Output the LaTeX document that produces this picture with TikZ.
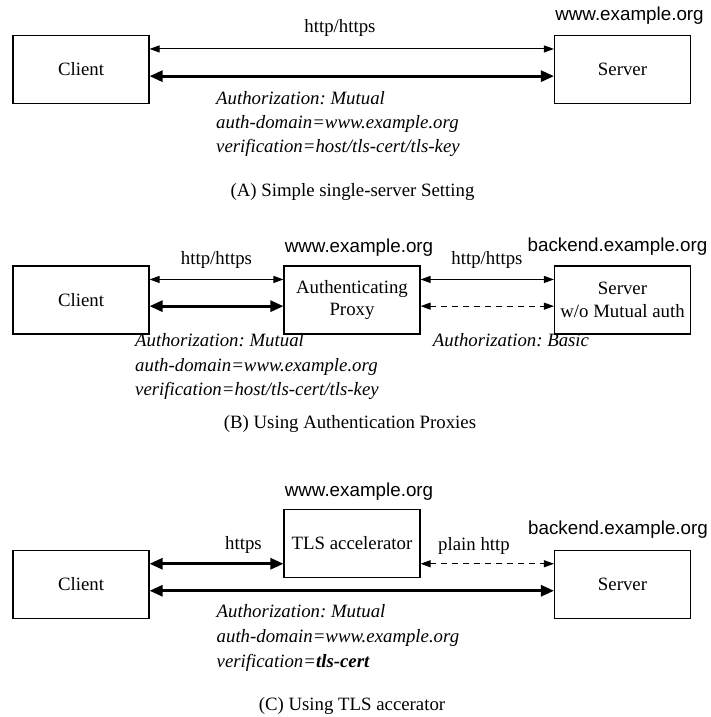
\documentclass[tikz,border=0pt]{standalone}
\usepackage{fontspec}
\setmainfont{Liberation Serif}
\newfontfamily\hostfont{Liberation Sans}
\usetikzlibrary{arrows.meta,calc}
\frenchspacing
\begin{document}
\begin{tikzpicture}[x=1pt,y=-1pt,
  box/.style={draw,line width=1.1pt,minimum width=136pt,minimum height=68pt,inner sep=0pt,align=center,font=\fontsize{18.8}{22.5}\selectfont},
  lbl/.style={inner sep=0pt,anchor=base,font=\fontsize{18.8}{22.5}\selectfont},
  host/.style={inner sep=0pt,anchor=base,font=\hostfont\fontsize{18.8}{22.5}\selectfont},
  auth/.style={inner sep=0pt,anchor=base west,font=\itshape\fontsize{18.8}{22.5}\selectfont},
  thinarr/.style={line width=1pt,{Triangle[length=10pt,width=7pt]}-{Triangle[length=10pt,width=7pt]}},
  thickarr/.style={line width=2.7pt,{Triangle[length=13pt,width=11pt]}-{Triangle[length=13pt,width=11pt]}},
  dasharr/.style={thinarr,dash pattern=on 6pt off 5pt},
]
\useasboundingbox (0,0) rectangle (711,717);

% ---------- (A) ----------
\node[box] (cA) at (81,69.5) {Client};
\node[box] (sA) at (622.5,69.5) {Server};
\node[host] (hA) at (629.5,21) {www.example.org};
\node[lbl] (pA) at (340,32.5) {http/https};
\coordinate (ya1) at ($(cA.north)+(0,14)$);
\coordinate (ya2) at ($(cA.north)+(0,41.2)$);
\draw[thinarr] (cA.east |- ya1) -- (sA.west |- ya1);
\draw[thickarr] (cA.east |- ya2) -- (sA.west |- ya2);
\node[auth] (a1A) at (216,104) {Authorization: Mutual};
\node[auth] (a2A) at (216,128.4) {auth-domain=www.example.org};
\node[auth] (a3A) at (216,152.8) {verification=host/tls-cert/tls-key};
\node[lbl] (capA) at (352.5,196.6) {(A) Simple single-server Setting};

% ---------- (B) ----------
\node[box] (cB) at (81,300) {Client};
\node[box] (pB) at (352,300) {Authenticating\\Proxy};
\node[box] (sB) at (622.5,300) {Server\\w/o Mutual auth};
\node[host] (hB1) at (359,252) {www.example.org};
\node[host] (hB2) at (617.5,251) {backend.example.org};
\node[lbl] (lB1) at (216.5,264) {http/https};
\node[lbl] (lB2) at (487,264) {http/https};
\coordinate (yb1) at ($(cB.north)+(0,14)$);
\coordinate (yb2) at ($(cB.north)+(0,40.7)$);
\draw[thinarr] (cB.east |- yb1) -- (pB.west |- yb1);
\draw[thickarr] (cB.east |- yb2) -- (pB.west |- yb2);
\draw[thinarr] (pB.east |- yb1) -- (sB.west |- yb1);
\draw[dasharr] (pB.east |- yb2) -- (sB.west |- yb2);
\node[auth] (a1B) at (135,346.7) {Authorization: Mutual};
\node[auth] (a2B) at (135,371.2) {auth-domain=www.example.org};
\node[auth] (a3B) at (135,395.7) {verification=host/tls-cert/tls-key};
\node[auth] (a4B) at (432.7,346.7) {Authorization: Basic};
\node[lbl] (capB) at (350,428.3) {(B) Using Authentication Proxies};

% ---------- (C) ----------
\node[box] (cC) at (81,584.3) {Client};
\node[box] (tC) at (352,543.5) {TLS accelerator};
\node[box] (sC) at (622.5,584.3) {Server};
\node[host] (hC1) at (359,496) {www.example.org};
\node[host] (hC2) at (618,534.5) {backend.example.org};
\node[lbl] (lC1) at (243.5,549.5) {https};
\node[lbl] (lC2) at (474,550) {plain http};
\coordinate (yc1) at ($(cC.north)+(0,14)$);
\coordinate (yc2) at ($(cC.north)+(0,41)$);
\draw[thickarr] (cC.east |- yc1) -- (tC.west |- yc1);
\draw[dasharr] (tC.east |- yc1) -- (sC.west |- yc1);
\draw[thickarr] (cC.east |- yc2) -- (sC.west |- yc2);
\node[auth] (a1C) at (216.5,617.7) {Authorization: Mutual};
\node[auth] (a2C) at (216.5,642.4) {auth-domain=www.example.org};
\node[auth] (a3C) at (216.5,667) {verification={\bfseries tls-cert}};
\node[lbl] (capC) at (352,710.3) {(C) Using TLS accerator};
\end{tikzpicture}
\end{document}
